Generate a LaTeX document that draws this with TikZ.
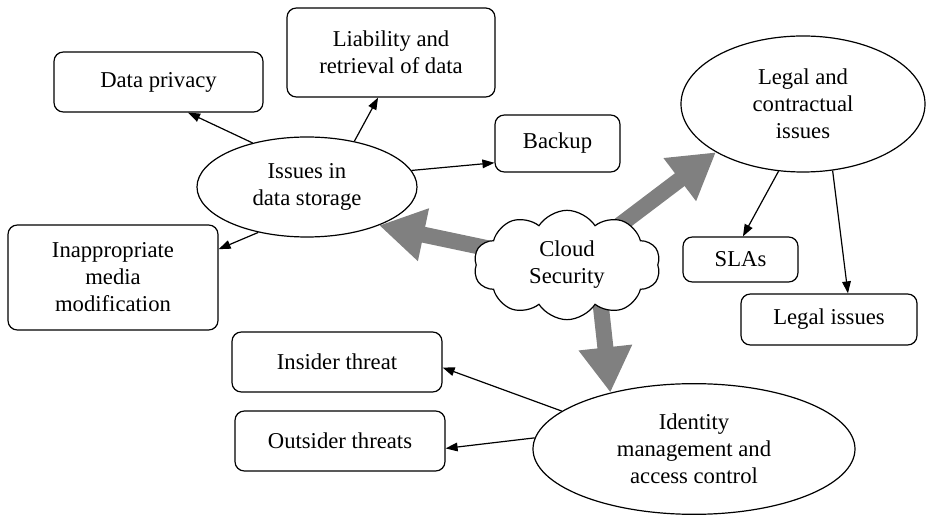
\documentclass[tikz,border=0pt]{standalone}
\usepackage{fontspec}
\setmainfont{Liberation Serif}
\usetikzlibrary{shapes.geometric,shapes.symbols,arrows.meta,backgrounds}
\begin{document}
\begin{tikzpicture}[x=0.75pt,y=-0.75pt,
  every node/.style={font=\rmfamily\fontsize{17}{20.3}\selectfont, align=center, inner sep=0pt},
  box/.style={draw, line width=0.9pt, rounded corners=7pt},
  oval/.style={draw, line width=0.9pt, ellipse},
  thin/.style={line width=0.9pt, -{Triangle[length=9pt,width=6.5pt]}},
  thick/.style={draw=gray, line width=12pt, -{Triangle[length=34pt,width=38pt]}, fill=gray}
]
\useasboundingbox (0,0) rectangle (926,516);

% boxes
\node[box, minimum width=156.75pt, minimum height=45pt] (privacy) at (158.5,82) {Data privacy};
\node[box, minimum width=156pt, minimum height=66.75pt] (liab) at (391,52.5) {Liability and\\retrieval of data};
\node[box, minimum width=93.75pt, minimum height=42.75pt] (backup) at (557.5,143.5) {Backup};
\node[box, minimum width=157.5pt, minimum height=78.75pt] (inapp) at (113,277.5) {Inappropriate\\media\\modification};
\node[box, minimum width=86.25pt, minimum height=33.75pt] (sla) at (740.5,259.5) {SLAs};
\node[box, minimum width=132pt, minimum height=38.25pt] (lissues) at (829,319.5) {Legal issues};
\node[box, minimum width=157.5pt, minimum height=45pt] (insider) at (337,362) {Insider threat};
\node[box, minimum width=157.5pt, minimum height=45pt] (outsider) at (340,441) {Outsider threats};

% ellipses
\node[oval, minimum width=165pt, minimum height=75pt] (issues) at (307,187) {Issues in\\data storage};
\node[oval, minimum width=183pt, minimum height=102pt] (legal) at (803,104) {Legal and\\contractual\\issues};
\node[oval, minimum width=241.5pt, minimum height=98pt] (identity) at (694,449) {Identity\\management and\\access control};

% cloud
\node[draw, line width=0.9pt, fill=white, cloud, cloud puffs=10, cloud puff arc=115, aspect=1.7,
      minimum width=140pt, minimum height=82pt] (cloud) at (567,265) {Cloud\\Security};

% thick arrows behind the cloud
\begin{scope}[on background layer]
\draw[thick] (cloud.center) -- (issues.-28);
\draw[thick] (cloud.center) -- (legal.209);
\draw[thick] ([xshift=22pt]cloud.center) -- (identity.146);
\end{scope}

% thin arrows
\draw[thin] (issues.141) -- (privacy.-46);
\draw[thin] (issues.44) -- (liab.-106);
\draw[thin] (issues.9) -- (backup.197);
\draw[thin] (issues.223) -- (inapp.15);
\draw[thin] (legal.250) -- (sla.84);
\draw[thin] (legal.-66) -- (lissues.54);
\draw[thin] (identity.164) -- (insider.-3);
\draw[thin] (identity.176) -- (outsider.-4);
\end{tikzpicture}
\end{document}
